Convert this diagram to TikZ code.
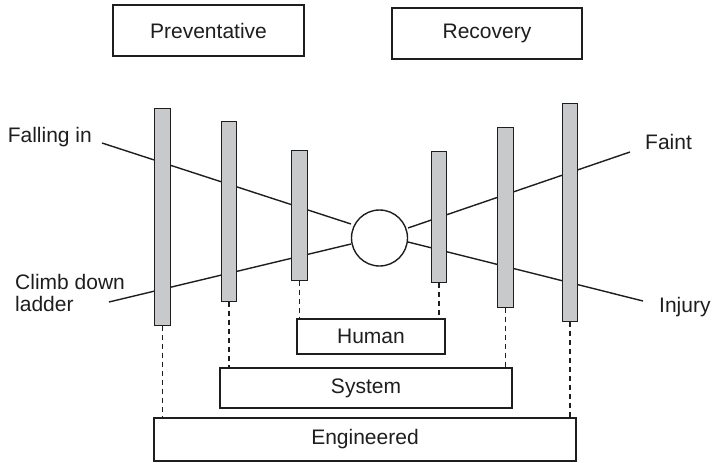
\documentclass[tikz,border=0pt]{standalone}
\usepackage{fontspec}
\setmainfont{Liberation Sans}
\definecolor{barfill}{RGB}{200,201,202}
\definecolor{ink}{RGB}{30,30,30}
\begin{document}
\begin{tikzpicture}[x=1pt,y=-1pt,
  every node/.style={font=\fontsize{21}{24}\selectfont, text=ink},
  labelbox/.style={draw=ink, line width=1.4pt, fill=white, inner sep=0pt},
  barrier/.style={draw=ink, line width=1.4pt, fill=barfill, inner sep=0pt},
  path line/.style={draw=ink, line width=1.4pt},
  link/.style={draw=ink, line width=1.1pt, dash pattern=on 5pt off 4pt}]
\useasboundingbox (0,0) rectangle (713,463);

% heading boxes
\node[labelbox, minimum width=191pt, minimum height=51pt] (prev) at (208.5,30.5) {Preventative};
\node[labelbox, minimum width=190pt, minimum height=51pt] (reco) at (487,33.5) {Recovery};

% barriers
\node[barrier, minimum width=15pt, minimum height=216pt] (b1) at (162.5,217) {};
\node[barrier, minimum width=14pt, minimum height=179pt] (b2) at (229,211.5) {};
\node[barrier, minimum width=15pt, minimum height=129pt] (b3) at (299.5,215.5) {};
\node[barrier, minimum width=14pt, minimum height=130pt] (b4) at (439,217) {};
\node[barrier, minimum width=15pt, minimum height=179pt] (b5) at (505.5,217.5) {};
\node[barrier, minimum width=14pt, minimum height=217pt] (b6) at (570,212.5) {};

% central event
\node[draw=ink, line width=1.4pt, circle, minimum size=56pt, inner sep=0pt] (ev) at (379.5,238) {};

% end points of the threat and consequence lines
\coordinate (fallEnd) at (102,143);
\coordinate (climbEnd) at (109,302);
\coordinate (faintEnd) at (630,152);
\coordinate (injEnd) at (643,301);
\coordinate (evUL) at (351,224);
\coordinate (evLL) at (351,244);
\coordinate (evUR) at (408,228);
\coordinate (evLR) at (408,242);

\path[path line] (fallEnd) -- (evUL);
\path[path line] (climbEnd) -- (evLL);
\path[path line] (evUR) -- (faintEnd);
\path[path line] (evLR) -- (injEnd);

% redraw barriers over the lines
\foreach \b in {b1,b2,b3,b4,b5,b6}{
  \path[barrier] (\b.south west) rectangle (\b.north east);
}

% labels
\node[anchor=east, inner sep=0pt] (fall) at (92,137) {Falling in};
\node[anchor=west, inner sep=0pt, align=left, font=\fontsize{21}{22}\selectfont] (climb) at (15,293) {Climb down\\ladder};
\node[anchor=west, inner sep=0pt] (faint) at (645,142) {Faint};
\node[anchor=west, inner sep=0pt] (inj) at (659,307) {Injury};

% barrier type boxes
\node[labelbox, minimum width=148pt, minimum height=35pt] (human) at (371,336.5) {Human};
\node[labelbox, minimum width=292pt, minimum height=40pt] (system) at (366,388) {System};
\node[labelbox, minimum width=422pt, minimum height=43pt] (eng) at (365,439.5) {Engineered};

% dashed links from barriers to their type
\path[link] (b1.south) -- (b1.south |- eng.north);
\path[link] (b6.south) -- (b6.south |- eng.north);
\path[link] (b2.south) -- (b2.south |- system.north);
\path[link] (b5.south) -- (b5.south |- system.north);
\path[link] (b3.south) -- (b3.south |- human.north);
\path[link] (b4.south) -- (b4.south |- human.north);
\end{tikzpicture}
\end{document}
